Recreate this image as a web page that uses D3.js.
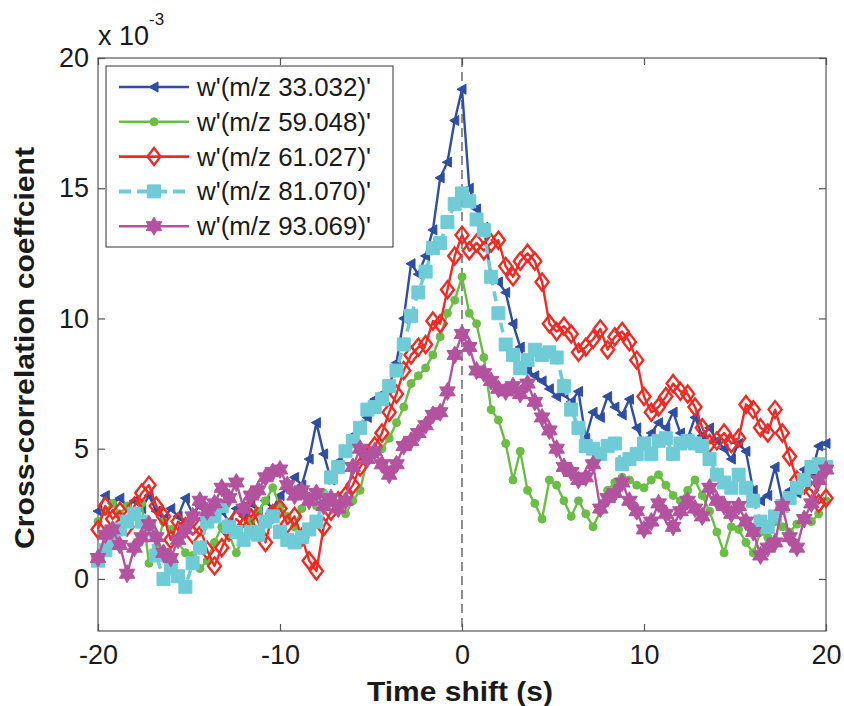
<!DOCTYPE html>
<html><head><meta charset="utf-8">
<script src="https://cdn.jsdelivr.net/npm/d3@7"></script>
<style>
html,body{margin:0;padding:0;background:#fff;}
svg{display:block;font-family:"Liberation Sans",Arial,sans-serif;}
</style></head>
<body><svg id="chart" width="844" height="706"></svg>
<script>
// time shift grid (s), step 0.4 s
const tStart = -20, tStep = 0.4;
const seriesNames = ["w'(m/z 33.032)'", "w'(m/z 59.048)'", "w'(m/z 61.027)'", "w'(m/z 81.070)'", "w'(m/z 93.069)'"];
// values in units of 1e-3
const blue = [2.6,3.2,2.9,3.1,2.8,3.0,2.7,3.2,2.6,2.3,2.7,2.4,3.1,2.5,2.8,2.4,2.9,2.6,2.2,2.7,
  2.4,2.9,2.6,3.0,2.7,3.2,3.5,3.9,3.6,4.6,6.0,4.8,3.8,4.5,5.0,5.5,5.8,6.2,6.9,7.1,
  7.4,8.3,10.0,12.1,11.7,12.4,13.4,15.4,16.0,17.6,18.8,15.0,14.2,13.5,11.6,11.4,11.0,9.8,8.9,8.0,
  7.8,7.6,7.3,7.0,7.1,6.8,7.2,5.4,6.4,6.2,7.0,6.6,6.3,6.9,5.8,5.2,5.6,6.0,5.8,6.4,
  5.6,5.4,6.2,5.5,5.8,5.3,5.0,4.6,5.2,4.9,3.4,3.0,3.2,4.3,3.0,3.4,3.3,4.2,4.0,5.1,5.2];
const green = [2.2,2.6,2.9,2.5,2.8,2.4,2.9,0.6,1.2,2.2,1.9,1.4,1.0,0.9,0.4,0.7,1.4,2.0,1.7,1.0,
  1.6,2.2,2.6,3.0,3.5,2.8,2.4,2.0,2.7,3.0,2.8,3.3,3.1,2.7,2.5,3.0,3.4,4.6,4.8,5.0,
  5.4,6.0,6.6,7.5,7.8,8.1,8.6,9.3,10.2,10.7,11.6,10.2,9.8,8.5,6.5,6.1,5.2,3.8,4.9,3.4,
  2.9,2.3,3.8,3.6,3.0,2.4,3.0,2.5,2.0,2.6,3.4,3.7,3.9,3.8,3.6,3.5,3.8,4.0,3.6,3.2,
  3.0,3.4,3.8,3.2,2.6,1.8,1.0,2.0,1.9,1.4,1.0,1.8,1.6,2.2,2.0,1.8,2.1,2.3,2.2,2.5,3.0];
const red = [1.9,2.8,2.3,2.6,2.0,2.8,3.3,3.6,2.8,2.4,1.5,2.2,2.0,1.7,2.0,1.1,0.5,1.2,1.8,2.3,
  2.0,2.7,2.2,1.4,2.5,2.7,2.1,2.4,1.6,0.7,0.3,2.0,2.6,3.0,3.2,3.6,4.3,4.7,5.1,5.6,
  6.4,7.1,8.0,8.6,8.9,9.0,9.9,9.8,11.1,12.4,13.2,12.6,12.9,12.6,12.9,13.0,12.0,11.6,12.2,12.5,
  12.2,11.4,9.8,9.5,9.7,9.4,8.7,8.9,9.2,9.6,8.8,9.3,9.5,9.1,8.4,7.0,6.4,6.6,7.0,7.5,
  7.2,7.1,6.6,5.8,5.2,5.3,5.6,5.2,5.4,6.7,6.5,5.8,5.6,6.5,5.6,4.7,3.8,3.6,3.4,2.9,3.1];
const cyan = [0.7,1.1,1.4,1.9,2.2,2.5,2.2,1.9,0.9,0.0,0.4,0.1,-0.3,0.6,1.2,2.2,2.4,2.8,2.0,1.8,
  1.5,1.8,1.7,2.2,2.4,1.8,1.5,1.4,1.6,1.9,2.2,3.0,3.9,4.3,4.9,5.3,5.8,6.5,6.6,6.9,
  7.4,8.0,9.0,10.1,11.0,11.8,12.7,12.9,13.7,14.4,14.8,14.5,13.8,13.4,11.6,10.2,9.0,8.6,8.1,8.4,
  8.8,8.6,8.7,8.5,7.4,6.5,5.8,5.1,5.0,4.8,5.1,5.2,4.4,4.6,4.8,5.2,4.8,5.3,5.4,4.8,
  5.2,5.3,5.2,5.1,4.6,4.0,3.7,3.5,4.0,3.5,3.0,2.2,2.0,2.4,2.8,3.1,3.5,3.8,4.3,4.4,4.3];
const magenta = [0.8,1.7,1.9,1.3,0.2,1.2,1.6,2.1,1.6,1.0,0.8,1.5,1.9,2.4,3.0,2.6,2.9,3.5,3.1,3.7,
  2.7,3.2,3.4,3.9,4.1,4.2,3.6,3.2,3.4,3.0,3.3,2.8,3.1,2.7,3.0,4.3,5.0,4.6,4.9,4.4,
  4.0,4.4,5.1,5.3,5.6,5.9,6.3,6.4,7.2,8.6,9.4,8.9,8.0,7.9,7.6,7.3,7.2,7.4,7.1,7.5,
  6.8,6.2,5.7,5.0,4.3,4.1,3.8,3.9,4.4,2.7,3.1,3.3,3.7,3.0,2.6,1.9,2.2,2.9,2.5,2.0,
  2.6,3.0,2.7,2.4,3.5,3.0,2.8,2.5,2.8,2.2,1.8,0.9,1.2,1.4,2.8,1.6,1.2,2.3,2.9,3.8,4.2];
const xTicks = [-20,-10,0,10,20];
const yTicks = [0,5,10,15,20];

const colors = ["#2f4da3","#6abd45","#ee2b24","#6fcbd6","#b3529f"];
const markers = ["tri","circle","diamond","square","hexagram"];
const allSeries = [blue, green, red, cyan, magenta];

const svg = d3.select("#chart");
const L = 98, R = 826, T = 58, B = 631;
const x = d3.scaleLinear().domain([-20,20]).range([L,R]);
const y = d3.scaleLinear().domain([-2,20]).range([B,T]);
const axisColor = "#555";
const txt = "#1a1a1a";

function markerPath(type){
  if(type==="tri") return "M-5,0L4,-5L4,5Z";
  if(type==="circle") return d3.symbol(d3.symbolCircle, 50)();
  if(type==="diamond") return "M0,-8.5L6.5,0L0,8.5L-6.5,0Z";
  if(type==="square") return "M-6.5,-6.5L6.5,-6.5L6.5,6.5L-6.5,6.5Z";
  if(type==="hexagram"){
    const Ro=9, Ri=Ro/Math.sqrt(3); let p=[];
    for(let k=0;k<12;k++){const a=(-90+k*30)*Math.PI/180; const r=k%2===0?Ro:Ri; p.push([r*Math.cos(a), r*Math.sin(a)]);}
    return "M"+p.map(d=>d[0].toFixed(2)+","+d[1].toFixed(2)).join("L")+"Z";
  }
}
function styleMarker(sel, i){
  const m = markers[i];
  if(m==="diamond") sel.attr("fill","none").attr("stroke",colors[i]).attr("stroke-width",2.4);
  else sel.attr("fill",colors[i]).attr("stroke",colors[i]).attr("stroke-width",1);
}

// frame
svg.append("rect").attr("x",L).attr("y",T).attr("width",R-L).attr("height",B-T)
  .attr("fill","none").attr("stroke",axisColor).attr("stroke-width",1.2);

// zero dashed line
svg.append("line").attr("x1",x(0)).attr("x2",x(0)).attr("y1",T).attr("y2",B)
  .attr("stroke","#444").attr("stroke-width",1.2).attr("stroke-dasharray","9,5");

// series
const line = d3.line().x((d,i)=>x(tStart+i*tStep)).y(d=>y(d));
allSeries.forEach((vals,i)=>{
  const g = svg.append("g");
  g.append("path").attr("d",line(vals)).attr("fill","none").attr("stroke",colors[i])
    .attr("stroke-width", i===3?3.5:2.4).attr("stroke-dasharray", i===3?"10,6":null).attr("stroke-linejoin","round");
  g.selectAll("path.m").data(vals).enter().append("path").attr("class","m")
    .attr("d",markerPath(markers[i]))
    .attr("transform",(d,j)=>`translate(${x(tStart+j*tStep)},${y(d)})`)
    .call(styleMarker,i);
});

// axes
const fs = "27px";
const xa = svg.append("g").attr("transform",`translate(0,${B})`)
  .call(d3.axisBottom(x).tickValues(xTicks).tickSize(-7).tickPadding(14).tickFormat(d3.format("d")));
const ya = svg.append("g").attr("transform",`translate(${L},0)`)
  .call(d3.axisLeft(y).tickValues(yTicks).tickSize(-7).tickPadding(9));
const xt = svg.append("g").attr("transform",`translate(0,${T})`)
  .call(d3.axisTop(x).tickValues(xTicks).tickSize(-7).tickFormat(""));
const yr = svg.append("g").attr("transform",`translate(${R},0)`)
  .call(d3.axisRight(y).tickValues(yTicks).tickSize(-7).tickFormat(""));
[xa,ya,xt,yr].forEach(a=>{
  a.select(".domain").remove();
  a.selectAll(".tick line").attr("stroke",axisColor).attr("stroke-width",1.2);
  a.selectAll("text").attr("fill",txt).style("font-size",fs).style("font-family","'Liberation Sans',Arial,sans-serif");
});
xa.selectAll("text").text(d=>d<0?"-"+Math.abs(d):d);

// exponent
const ex = svg.append("text").attr("x",98).attr("y",45).attr("fill",txt)
  .style("font-size","27px");
ex.append("tspan").text("x 10");
ex.append("tspan").attr("dy",-20).style("font-size","17px").text("-3");

// axis labels
svg.append("text").attr("x",460).attr("y",701).attr("text-anchor","middle")
  .attr("textLength",186).attr("lengthAdjust","spacingAndGlyphs")
  .style("font-size","28px").style("font-weight","bold").attr("fill",txt).text("Time shift (s)");
svg.append("text").attr("transform","translate(34,348) rotate(-90)").attr("text-anchor","middle")
  .attr("textLength",402).attr("lengthAdjust","spacingAndGlyphs")
  .style("font-size","28px").style("font-weight","bold").attr("fill",txt).text("Cross-correlation coeffcient");

// legend
const lg = svg.append("g");
lg.append("rect").attr("x",106).attr("y",66).attr("width",287).attr("height",181)
  .attr("fill","#fff").attr("stroke","#333").attr("stroke-width",1);
seriesNames.forEach((name,i)=>{
  const yy = 87 + i*34.8;
  lg.append("line").attr("x1",119).attr("x2",189).attr("y1",yy).attr("y2",yy)
    .attr("stroke",colors[i]).attr("stroke-width",i===3?4:2.6).attr("stroke-dasharray",i===3?"12,6":null);
  lg.append("path").attr("d",markerPath(markers[i])).attr("transform",`translate(154,${yy})`).call(styleMarker,i);
  lg.append("text").attr("x",197).attr("y",yy+9).attr("fill",txt).style("font-size","25px")
    .attr("textLength",174).attr("lengthAdjust","spacingAndGlyphs").text(name);
});
</script></body></html>
